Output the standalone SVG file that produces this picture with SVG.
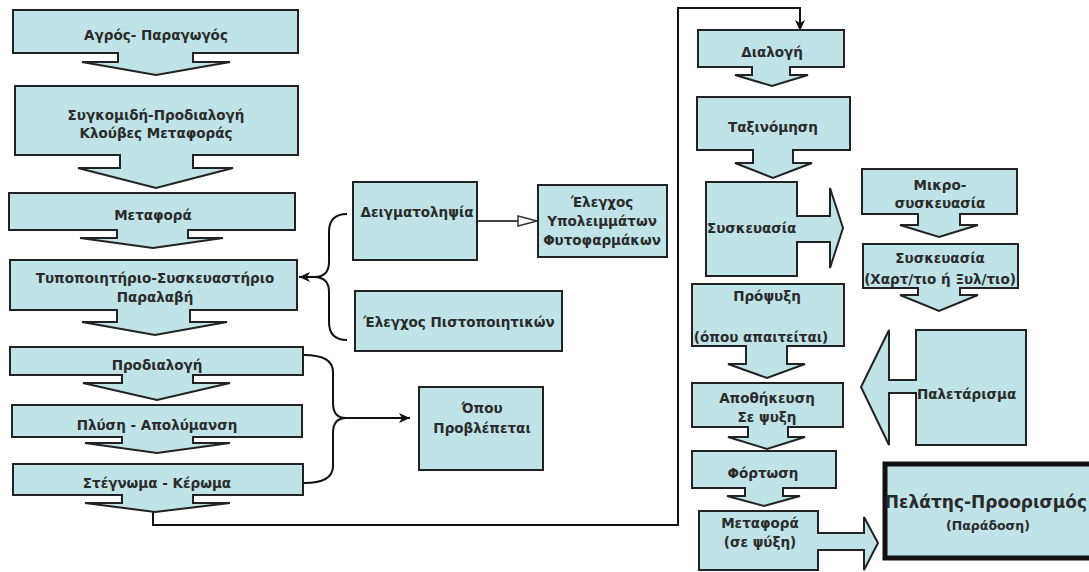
<svg xmlns="http://www.w3.org/2000/svg" width="1089" height="572" viewBox="0 0 1089 572">
<style>
.n{fill:#bfe3e6;stroke:#222;stroke-width:2;stroke-linejoin:miter}
.t{font-family:"DejaVu Sans","Liberation Sans",sans-serif;font-weight:bold;font-size:13.5px;fill:#2a2a2a;text-anchor:middle}
.l{text-anchor:start}
.c{fill:none;stroke:#111;stroke-width:2}
</style>
<defs>
<marker id="ah" markerUnits="userSpaceOnUse" markerWidth="12" markerHeight="10" refX="11" refY="5" orient="auto"><path d="M0,0 L11,5 L0,10 L3,5 Z" fill="#111"/></marker>
<marker id="ho" markerUnits="userSpaceOnUse" markerWidth="24" markerHeight="14" refX="22" refY="7" orient="auto"><path d="M2,2 L21,7 L2,12 Z" fill="#fff" stroke="#333" stroke-width="1.5"/></marker>
</defs>
<rect width="1089" height="572" fill="#fff"/>

<g id="connectors">
<path class="c" d="M347,214 Q329,214 329,232 V262 Q329,277 314,277 Q329,277 329,292 V322 Q329,340 347,340"/>
<path class="c" d="M314,277 H299" marker-end="url(#ah)"/>
<path class="c" d="M304,355 Q333,355 333,372 V403 Q333,418 346,418 Q333,418 333,433 V466 Q333,483 304,483"/>
<path class="c" d="M346,418 H410" marker-end="url(#ah)"/>
<path d="M477,221 H538" stroke="#444" stroke-width="2" fill="none" marker-end="url(#ho)"/>
<path class="c" d="M153,512 V525 H678 V8 H800 V31" stroke-width="2.5" marker-end="url(#ah)"/>
</g>

<g id="n1"><path class="n" d="M13,10 H298 V53 H193 V62 H230 L156,75 L82,62 H118 V53 H13 Z"/><text class="t" x="156" y="40">Αγρός- Παραγωγός</text></g>
<g id="n2"><path class="n" d="M15,86 H298 V155 H193 V168 H233 L156,188 L78,168 H120 V155 H15 Z"/><text class="t" x="156" y="120">Συγκομιδή-Προδιαλογή</text><text class="t" x="156" y="138">Κλούβες Μεταφοράς</text></g>
<g id="n3"><path class="n" d="M9,193 H295 V230 H188 V238 H223 L153,248 L80,238 H117 V230 H9 Z"/><text class="t" x="153" y="220">Μεταφορά</text></g>
<g id="n4"><path class="n" d="M10,260 H297 V310 H190 V322 H227 L155,335 L82,322 H117 V310 H10 Z"/><text class="t" x="155" y="283">Τυποποιητήριο-Συσκευαστήριο</text><text class="t" x="155" y="302">Παραλαβή</text></g>
<g id="n5"><path class="n" d="M10,347 H303 V375 H193 V383 H230 L157,400 L83,383 H122 V375 H10 Z"/><text class="t" x="157" y="370">Προδιαλογή</text></g>
<g id="n6"><path class="n" d="M12,405 H302 V437 H193 V443 H230 L157,453 L85,443 H122 V437 H12 Z"/><text class="t" x="157" y="430">Πλύση - Απολύμανση</text></g>
<g id="n7"><path class="n" d="M13,464 H303 V495 H193 V503 H230 L155,512 L85,503 H122 V495 H13 Z"/><text class="t" x="157" y="488">Στέγνωμα - Κέρωμα</text></g>

<g id="n8"><rect class="n" x="353" y="182" width="124" height="78"/><text class="t" x="417" y="217">Δειγματοληψία</text></g>
<g id="n9"><rect class="n" x="538" y="185" width="129" height="72"/><text class="t" x="602" y="207">Έλεγχος</text><text class="t" x="602" y="226">Υπολειμμάτων</text><text class="t" x="602" y="245">Φυτοφαρμάκων</text></g>
<g id="n10"><rect class="n" x="355" y="291" width="207" height="60"/><text class="t" x="459" y="327">Έλεγχος Πιστοποιητικών</text></g>
<g id="n11"><rect class="n" x="419" y="387" width="124" height="83"/><text class="t" x="482" y="413">Όπου</text><text class="t" x="482" y="433">Προβλέπεται</text></g>

<g id="n12"><path class="n" d="M698,30 H844 V67 H790 V75 H808 L772,86 L735,75 H752 V67 H698 Z"/><text class="t" x="772" y="57">Διαλογή</text></g>
<g id="n13"><path class="n" d="M697,97 H850 V150 H793 V163 H812 L773,178 L735,163 H753 V150 H697 Z"/><text class="t" x="773" y="132">Ταξινόμηση</text></g>
<g id="n14"><path class="n" d="M706,182 H797 V216 H830 V188 L843,228 L830,268 V242 H797 V276 H706 Z"/><text class="t l" x="707" y="233">Συσκευασία</text></g>
<g id="n15"><path class="n" d="M692,284 H844 V346 H787 V364 H805 L767,378 L728,364 H746 V346 H692 Z"/><text class="t" x="767" y="301">Πρόψυξη</text><text class="t" x="761" y="342">(όπου απαιτείται)</text></g>
<g id="n16"><path class="n" d="M692,383 H843 V427 H788 V437 H805 L767,449 L728,437 H748 V427 H692 Z"/><text class="t" x="767" y="403">Αποθήκευση</text><text class="t" x="767" y="422">Σε ψυξη</text></g>
<g id="n17"><path class="n" d="M692,451 H836 V488 H783 V496 H800 L764,506 L727,496 H745 V488 H692 Z"/><text class="t" x="763" y="478">Φόρτωση</text></g>
<g id="n18"><path class="n" d="M699,511 H818 V533 H864 V517 L878,543 L864,570 V550 H818 V570 H699 Z"/><text class="t" x="760" y="528">Μεταφορά</text><text class="t" x="760" y="547">(σε ψύξη)</text></g>

<g id="n19"><path class="n" d="M862,169 H1017 V214 H960 V225 H978 L939,237 L900,225 H918 V214 H862 Z"/><text class="t" x="940" y="190">Μικρο-</text><text class="t" x="940" y="208">συσκευασία</text></g>
<g id="n20"><path class="n" d="M863,244 H1018 V288 H960 V295 H978 L939,311 L900,295 H918 V288 H863 Z"/><text class="t" x="940" y="263">Συσκευασία</text><text class="t" x="940" y="284">(Χαρτ/τιο ή Ξυλ/τιο)</text></g>
<g id="n21"><path class="n" d="M916,330 H1026 V445 H916 V393 H889 V445 L861,387 L889,330 V380 H916 Z"/><text class="t l" x="917" y="399">Παλετάρισμα</text></g>
<g id="n22"><rect x="885" y="464" width="220" height="94" fill="#bfe3e6" stroke="#111" stroke-width="5"/><text class="t" x="986" y="508" style="font-size:17px">Πελάτης-Προορισμός</text><text class="t" x="988" y="530" style="font-size:12.5px">(Παράδοση)</text></g>
</svg>
